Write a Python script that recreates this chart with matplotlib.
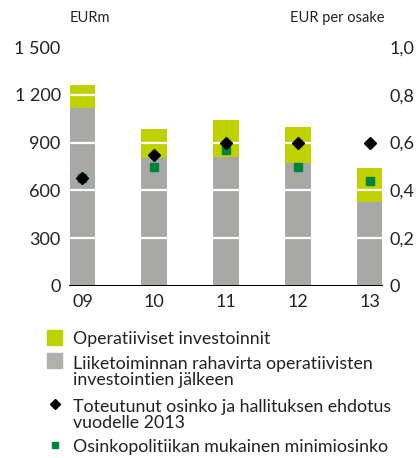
import matplotlib
matplotlib.use("Agg")
import matplotlib.pyplot as plt
from matplotlib.patches import Rectangle
from matplotlib.lines import Line2D

plt.rcParams['font.family'] = ['Lato', 'DejaVu Sans']

years = ["09", "10", "11", "12", "13"]
cash_flow_after_capex = [1120, 805, 812, 774, 529]
operative_capex = [140, 180, 230, 224, 212]
dividend_actual = [0.45, 0.55, 0.60, 0.60, 0.60]
dividend_minimum = [0.45, 0.50, 0.57, 0.50, 0.44]
left_ticks = [0, 300, 600, 900, 1200, 1500]
left_labels = ["0", "300", "600", "900", "1 200", "1 500"]
right_ticks = [0, 0.2, 0.4, 0.6, 0.8, 1.0]
right_labels = ["0", "0,2", "0,4", "0,6", "0,8", "1,0"]
legend_labels = ["Operatiiviset investoinnit",
                 "Liiketoiminnan rahavirta operatiivisten\ninvestointien jälkeen",
                 "Toteutunut osinko ja hallituksen ehdotus\nvuodelle 2013",
                 "Osinkopolitiikan mukainen minimiosinko"]

W, H = 418, 458
GREEN = "#c0d100"
GRAY = "#a8a8a7"
DKGREEN = "#00843d"
TXT = "#222222"

fig = plt.figure(figsize=(W / 100, H / 100), dpi=100)
ax = fig.add_axes([69 / W, (H - 286) / H, (383 - 69) / W, (286 - 47) / H])
x = list(range(len(years)))
ax.bar(x, cash_flow_after_capex, width=0.36, color=GRAY, zorder=2)
ax.bar(x, operative_capex, bottom=cash_flow_after_capex, width=0.36, color=GREEN, zorder=2)
for t in left_ticks[1:-1]:
    ax.axhline(t, color="white", lw=1.6, zorder=3)
ax.axhline(0, color="black", lw=2.2, zorder=4)
ax.set_xlim(-0.1875, 4.1875)
ax.set_ylim(0, 1500)
ax.set_yticks(left_ticks)
ax.set_yticklabels(left_labels)
ax.set_xticks(x)
ax.set_xticklabels(years)
for s in ax.spines.values():
    s.set_visible(False)
ax.tick_params(axis="both", length=0, labelsize=13, colors=TXT, pad=6)
ax.tick_params(axis="x", pad=6)

ax2 = ax.twinx()
ax2.set_ylim(0, 1.0)
ax2.set_yticks(right_ticks)
ax2.set_yticklabels(right_labels)
for s in ax2.spines.values():
    s.set_visible(False)
ax2.tick_params(axis="y", length=0, labelsize=13, colors=TXT, pad=5)
ax2.plot(x, dividend_minimum, ls="none", marker="s", ms=6, color=DKGREEN, zorder=5)
ax2.plot(x, dividend_actual, ls="none", marker="D", ms=6.5, color="black", zorder=6)
ax2.set_zorder(ax.get_zorder() + 1)

fig.text(70 / W, 1 - 18 / H, "EURm", fontsize=10.5, color=TXT, va="center", ha="left")
fig.text(384 / W, 1 - 18 / H, "EUR per osake", fontsize=10.5, color=TXT, va="center", ha="right")

# legend
lx0 = 47
tx = 73
fig.patches.append(Rectangle((lx0 / W, 1 - 345 / H), 15 / W, 15 / H, color=GREEN, transform=fig.transFigure))
fig.patches.append(Rectangle((lx0 / W, 1 - 368 / H), 15 / W, 15 / H, color="#b0b0af", transform=fig.transFigure))
fig.lines.append(Line2D([55 / W], [1 - 404 / H], marker="D", ms=5, color="black", transform=fig.transFigure))
fig.lines.append(Line2D([55 / W], [1 - 445 / H], marker="s", ms=4.5, color=DKGREEN, transform=fig.transFigure))
ys = [339, 372, 415, 447]
for yy, lab in zip(ys, legend_labels):
    fig.text(tx / W, 1 - yy / H, lab, fontsize=12.8, color=TXT, va="center", ha="left", linespacing=1.0)

fig.savefig("out.png", dpi=100)
